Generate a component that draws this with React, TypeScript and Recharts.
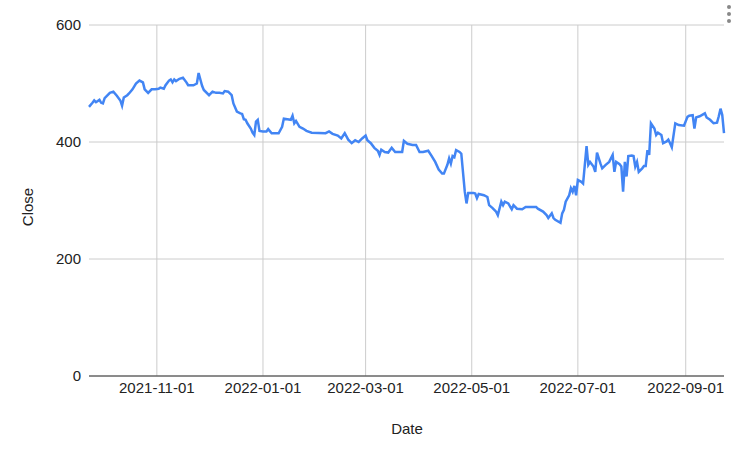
import { LineChart, Line, XAxis, YAxis, CartesianGrid } from "recharts";

// closing prices (one year, Sep 2021 - Sep 2022)
const dates = [
    "2021-09-23", "2021-09-25", "2021-09-26", "2021-09-27", "2021-09-29", "2021-09-30",
    "2021-10-01", "2021-10-02", "2021-10-05", "2021-10-07", "2021-10-09", "2021-10-11",
    "2021-10-12", "2021-10-13", "2021-10-15", "2021-10-16", "2021-10-18", "2021-10-20",
    "2021-10-22", "2021-10-24", "2021-10-25", "2021-10-27", "2021-10-29", "2021-10-31",
    "2021-11-02", "2021-11-03", "2021-11-05", "2021-11-06", "2021-11-08", "2021-11-09",
    "2021-11-10", "2021-11-11", "2021-11-12", "2021-11-14", "2021-11-16", "2021-11-18",
    "2021-11-19", "2021-11-22", "2021-11-24", "2021-11-25", "2021-11-27", "2021-11-28",
    "2021-12-01", "2021-12-03", "2021-12-05", "2021-12-07", "2021-12-09", "2021-12-10",
    "2021-12-12", "2021-12-14", "2021-12-15", "2021-12-17", "2021-12-19", "2021-12-20",
    "2021-12-21", "2021-12-22", "2021-12-23", "2021-12-25", "2021-12-26", "2021-12-27",
    "2021-12-28", "2021-12-29", "2021-12-30", "2022-01-01", "2022-01-03", "2022-01-04",
    "2022-01-06", "2022-01-10", "2022-01-12", "2022-01-13", "2022-01-15", "2022-01-17",
    "2022-01-18", "2022-01-19", "2022-01-20", "2022-01-22", "2022-01-24", "2022-01-26",
    "2022-01-29", "2022-02-06", "2022-02-08", "2022-02-10", "2022-02-13", "2022-02-15",
    "2022-02-17", "2022-02-19", "2022-02-21", "2022-02-23", "2022-02-25", "2022-02-27",
    "2022-03-01", "2022-03-02", "2022-03-04", "2022-03-06", "2022-03-08", "2022-03-09",
    "2022-03-10", "2022-03-12", "2022-03-14", "2022-03-16", "2022-03-18", "2022-03-22",
    "2022-03-23", "2022-03-25", "2022-03-28", "2022-03-30", "2022-04-01", "2022-04-03",
    "2022-04-06", "2022-04-08", "2022-04-10", "2022-04-12", "2022-04-14", "2022-04-15",
    "2022-04-17", "2022-04-18", "2022-04-19", "2022-04-20", "2022-04-21", "2022-04-22",
    "2022-04-24", "2022-04-25", "2022-04-27", "2022-04-28", "2022-04-29", "2022-05-02",
    "2022-05-03", "2022-05-04", "2022-05-05", "2022-05-08", "2022-05-10", "2022-05-11",
    "2022-05-13", "2022-05-15", "2022-05-16", "2022-05-18", "2022-05-19", "2022-05-20",
    "2022-05-22", "2022-05-24", "2022-05-25", "2022-05-27", "2022-05-30", "2022-06-01",
    "2022-06-07", "2022-06-08", "2022-06-11", "2022-06-13", "2022-06-14", "2022-06-16",
    "2022-06-17", "2022-06-18", "2022-06-21", "2022-06-22", "2022-06-23", "2022-06-24",
    "2022-06-26", "2022-06-27", "2022-06-28", "2022-06-29", "2022-06-30", "2022-07-01",
    "2022-07-03", "2022-07-04", "2022-07-06", "2022-07-07", "2022-07-08", "2022-07-10",
    "2022-07-11", "2022-07-12", "2022-07-14", "2022-07-15", "2022-07-17", "2022-07-19",
    "2022-07-21", "2022-07-22", "2022-07-23", "2022-07-25", "2022-07-26", "2022-07-27",
    "2022-07-28", "2022-07-29", "2022-07-30", "2022-08-01", "2022-08-02", "2022-08-03",
    "2022-08-04", "2022-08-05", "2022-08-07", "2022-08-08", "2022-08-09", "2022-08-10",
    "2022-08-11", "2022-08-12", "2022-08-14", "2022-08-15", "2022-08-16", "2022-08-18",
    "2022-08-19", "2022-08-21", "2022-08-22", "2022-08-23", "2022-08-24", "2022-08-26",
    "2022-08-28", "2022-08-31", "2022-09-02", "2022-09-03", "2022-09-05", "2022-09-06",
    "2022-09-07", "2022-09-09", "2022-09-12", "2022-09-13", "2022-09-15", "2022-09-17",
    "2022-09-19", "2022-09-20", "2022-09-21", "2022-09-22", "2022-09-23"
];

const closes = [
    460, 467, 471, 468, 472, 467,
    466, 475, 484, 486, 479, 471,
    462, 476, 480, 483, 490, 500,
    505, 502, 490, 484, 490, 490,
    491, 493, 491, 497, 505, 507,
    502, 507, 504, 508, 510, 502,
    497, 497, 500, 518, 496, 489,
    480, 486, 484, 484, 483, 487,
    486, 480, 466, 452, 449, 448,
    439, 438, 432, 423, 416, 412,
    435, 438, 419, 418, 418, 422,
    415, 415, 426, 440, 439, 438,
    445, 432, 436, 426, 423, 419,
    416, 415, 418, 414, 411, 406,
    415, 404, 398, 403, 400, 406,
    411, 403, 398, 390, 385, 378,
    387, 383, 382, 390, 383, 383,
    402, 397, 395, 395, 383, 383,
    385, 376, 366, 353, 346, 346,
    361, 372, 363, 376, 374, 386,
    383, 380, 315, 295, 313, 313,
    312, 304, 311, 309, 306, 292,
    287, 281, 275, 298, 292, 298,
    295, 285, 292, 286, 285, 289,
    289, 286, 281, 275, 270, 278,
    270, 267, 262, 278, 284, 298,
    309, 321, 315, 325, 309, 335,
    332, 329, 393, 361, 366, 358,
    349, 382, 363, 355, 361, 366,
    378, 349, 366, 362, 358, 315,
    366, 341, 376, 377, 376, 358,
    366, 349, 355, 359, 359, 386,
    378, 432, 423, 412, 416, 412,
    398, 401, 404, 398, 391, 432,
    429, 428, 443, 445, 446, 423,
    442, 444, 449, 442, 438, 432,
    433, 444, 457, 446, 415
];

const xTickDates = [
    "2021-11-01",
    "2022-01-01",
    "2022-03-01",
    "2022-05-01",
    "2022-07-01",
    "2022-09-01"
];
const yTicks = [0, 200, 400, 600];

const toTime = (d: string) => Date.parse(d + "T00:00:00Z");
const fmtDate = (t: number) => new Date(t).toISOString().slice(0, 10);

const data = dates.map((d, i) => ({ t: toTime(d), close: closes[i] }));
const xTicks = xTickDates.map(toTime);
const tMin = data[0].t;
const tMax = data[data.length - 1].t;

const font = "'Liberation Sans', Arial, sans-serif";
const tickStyle = { fontSize: 15, fill: "#222", fontFamily: font };

// only the month ticks get vertical grid lines (no line at the plot's left edge)
const verticalGen = (props: any) => {
    const { xAxis, offset } = props;
    if (xAxis && typeof xAxis.scale === "function") {
        return xTicks.map((t) => xAxis.scale(t));
    }
    return xTicks.map(
        (t) => offset.left + ((t - tMin) / (tMax - tMin)) * offset.width
    );
};

export default function App() {
    return (
        <div
            style={{
                position: "fixed",
                left: 0,
                top: 0,
                width: 740,
                height: 455,
                background: "#fff"
            }}
        >
            <LineChart
                width={740}
                height={455}
                data={data}
                margin={{ top: 25, right: 16, left: 0, bottom: 0 }}
            >
                <CartesianGrid
                    stroke="#cccccc"
                    strokeWidth={1}
                    verticalCoordinatesGenerator={verticalGen}
                />
                <XAxis
                    dataKey="t"
                    type="number"
                    scale="time"
                    domain={[tMin, tMax]}
                    ticks={xTicks}
                    tickFormatter={fmtDate}
                    tick={tickStyle}
                    tickLine={false}
                    axisLine={{ stroke: "#333", strokeWidth: 1 }}
                    tickMargin={0}
                    height={79}
                    interval={0}
                    label={() => (
                        <text
                            x={407}
                            y={428}
                            textAnchor="middle"
                            dominantBaseline="central"
                            style={tickStyle}
                        >
                            Date
                        </text>
                    )}
                />
                <YAxis
                    domain={[0, 600]}
                    ticks={yTicks}
                    tick={tickStyle}
                    tickLine={false}
                    axisLine={false}
                    width={89}
                    label={() => (
                        <text
                            x={27}
                            y={207}
                            transform="rotate(-90 27 207)"
                            textAnchor="middle"
                            dominantBaseline="central"
                            style={tickStyle}
                        >
                            Close
                        </text>
                    )}
                />
                <Line
                    type="linear"
                    dataKey="close"
                    stroke="#4285f4"
                    strokeWidth={2.5}
                    dot={false}
                    isAnimationActive={false}
                />
            </LineChart>
            {/* chart menu dots, top right */}
            <div
                style={{
                    position: "absolute",
                    left: 727,
                    top: 5,
                    display: "flex",
                    flexDirection: "column",
                    gap: 3
                }}
            >
                {[0, 1, 2].map((i) => (
                    <div
                        key={i}
                        style={{
                            width: 4,
                            height: 4,
                            borderRadius: 2,
                            background: "#888"
                        }}
                    />
                ))}
            </div>
        </div>
    );
}
